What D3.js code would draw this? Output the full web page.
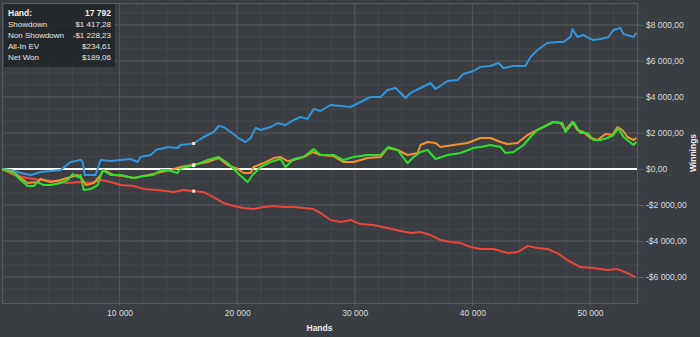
<!DOCTYPE html>
<html>
<head>
<meta charset="utf-8">
<script src="https://cdn.jsdelivr.net/npm/d3@7"></script>
<style>
  body { margin: 0; background: #3a3e42; }
  #graph { width: 700px; height: 337px; }
  text { font-family: "Liberation Sans", Arial, sans-serif; }
</style>
</head>
<body>
<div id="graph"></div>
<script>
// winnings by hand, [hand, $]
var showdownData = [
  [0,0],[740,-56],[1590,-222],[2440,-333],[3290,-167],[4140,-111],[4990,-56],[5410,167],[5840,389],
  [6690,500],[6860,389],[7030,-333],[7960,-333],[8390,500],[9240,444],[10090,500],[10940,556],
  [11530,389],[11790,667],[12640,778],[13230,1111],[13490,1111],[14090,1222],[14940,1167],[15190,1333],
  [16300,1417],[17150,1778],[18000,2056],[18420,2389],[18850,2333],[19440,2056],[20120,1722],
  [20720,1500],[21140,1722],[21570,2278],[21990,2167],[22840,2333],[23440,2556],[24120,2444],
  [24800,2722],[25390,2889],[25990,2778],[26500,3333],[27090,3222],[27940,3556],[28790,3500],
  [29640,3444],[30490,3722],[31340,4000],[32190,4000],[32780,4389],[33470,4500],[34320,3944],
  [34740,4222],[35590,4500],[36440,4778],[36870,4444],[37890,4889],[38740,4944],[39240,5278],
  [40090,5444],[40690,5667],[41540,5722],[42220,5889],[42640,5611],[43490,5722],[44510,5722],
  [44940,6222],[45530,6611],[46380,7000],[47230,7056],[47740,7056],[48340,7333],[48510,7778],
  [48930,7333],[49440,7444],[49870,7278],[50290,7167],[50890,7222],[51570,7333],[52000,7722],
  [52590,7833],[52850,7500],[53700,7333],[53950,7556]
];
var nonShowdownData = [
  [0,0],[990,-333],[2180,-500],[3290,-611],[4390,-667],[5580,-778],[6690,-722],[7540,-778],
  [8390,-611],[9240,-722],[10090,-889],[11190,-944],[12050,-1111],[13230,-1167],[14600,-1278],
  [15450,-1167],[16300,-1228],[17150,-1278],[18000,-1556],[18850,-1889],[19700,-2056],[20550,-2167],
  [21400,-2222],[22250,-2111],[23100,-2056],[23950,-2111],[24800,-2111],[25650,-2167],[26500,-2222],
  [27090,-2444],[27940,-2833],[28790,-2944],[29640,-2833],[30490,-3056],[31590,-3111],[32780,-3278],
  [33890,-3444],[34740,-3556],[35590,-3500],[36440,-3667],[37290,-3944],[38140,-4056],[38990,-4111],
  [39840,-4333],[40690,-4444],[41790,-4444],[42980,-4667],[43840,-4611],[44690,-4278],[45530,-4389],
  [46380,-4444],[47230,-4667],[48090,-5056],[49190,-5444],[50300,-5500],[51490,-5611],[52340,-5556],
  [53190,-5778],[53870,-6000]
];
var allInEvData = [
  [0,0],[990,-167],[1590,-500],[2180,-778],[3030,-722],[3290,-556],[4140,-722],[4990,-611],
  [5840,-444],[6430,-333],[6860,-611],[7120,-889],[7800,-778],[8390,-333],[8650,-56],[9500,-333],
  [10350,-389],[11190,-500],[12050,-389],[12890,-278],[13490,-167],[14340,-56],[15190,111],
  [16300,235],[17490,389],[18420,611],[19190,222],[20040,0],[20550,-222],[21140,-222],[21400,111],
  [22250,333],[23100,611],[23690,667],[24290,444],[24800,500],[25650,667],[26410,944],[27090,778],
  [28190,722],[29040,389],[29890,389],[31080,611],[32190,667],[32780,1167],[33640,1056],[34490,778],
  [35340,889],[35590,1333],[36190,1500],[36870,1444],[37290,1222],[38390,1333],[39590,1444],
  [40690,1722],[41540,1722],[42390,1500],[42980,1389],[43840,1444],[44690,1889],[45530,2167],
  [46380,2444],[46890,2611],[47490,2556],[47910,2167],[48510,2611],[48930,2167],[49440,2056],
  [50040,1722],[50640,1611],[51320,1944],[51910,1889],[52340,2333],[52760,2167],[53190,1778],
  [53700,1611],[53950,1722]
];
var netWonData = [
  [0,0],[990,-222],[1590,-611],[2180,-944],[2700,-944],[3030,-722],[3540,-889],[4140,-889],
  [4990,-778],[5580,-611],[6010,-278],[6430,-444],[6690,-333],[6950,-1167],[7540,-1111],[8140,-889],
  [8560,-56],[9240,-333],[10090,-333],[11190,-500],[12050,-389],[12890,-333],[13490,-56],[14090,-56],
  [14940,-222],[15190,56],[16300,189],[17490,500],[18420,667],[19190,333],[20040,-222],[20890,-722],
  [21310,-333],[21990,111],[22840,389],[23690,556],[24120,111],[24800,556],[25650,667],[26500,1111],
  [27090,778],[28190,778],[29040,500],[29890,667],[31080,778],[32190,778],[32870,1222],[33640,1056],
  [34490,333],[35000,667],[35590,944],[36190,1056],[36870,556],[37890,778],[38990,889],[40090,1167],
  [40690,1222],[41540,1333],[42390,1222],[42820,889],[43490,944],[44350,1333],[44940,1778],
  [45530,2167],[46380,2444],[46890,2611],[47660,2556],[47910,2056],[48600,2611],[49190,2000],
  [49780,2000],[50290,1611],[50890,1611],[51490,1722],[52000,1889],[52420,2278],[52850,1778],
  [53700,1333],[53950,1500]
];

var xTicks = [10000, 20000, 30000, 40000, 50000];
var yTicks = [-6000, -4000, -2000, 0, 2000, 4000, 6000, 8000];

var tipHand = 17792;
var markerHand = 16300;
var tipLabels = ["Showdown", "Non Showdown", "All-In EV", "Net Won"];
var tipValues = [1417.28, -1228.23, 234.61, 189.06];
var seriesColors = ["#3396dc", "#e8463f", "#f2912e", "#2fe02f"];

var width = 700;
var height = 337;
var margin = {top: 3, right: 63, bottom: 34, left: 2};
var plotW = width - margin.left - margin.right;
var plotH = height - margin.top - margin.bottom;

var locale = d3.formatLocale({
  decimal: ",", thousands: " ", grouping: [3], currency: ["$", ""], minus: "-"
});
var money = locale.format("$,.2f");
var count = locale.format(",d");

var svg = d3.select('#graph')
  .append('svg')
  .attr('width', width)
  .attr('height', height);

svg.append('rect')
  .attr('width', width).attr('height', height)
  .attr('fill', '#3a3e42');

var g = svg.append('g')
  .attr('transform', 'translate(' + margin.left + ',' + margin.top + ')');

var x = d3.scaleLinear().domain([0, 54000]).range([0, plotW]);
var y = d3.scaleLinear().domain([-7440, 9220]).range([plotH, 0]);

// minor grid: 2000 hands, a third of $2000
var xMinor = d3.range(2000, 54000, 2000);
var yMinor = d3.range(-22, 14).map(function(i) { return i * 2000 / 3; })
  .filter(function(v) { return v > -7440 && v < 9220; });

g.selectAll('.vminor').data(xMinor).enter().append('line')
  .attr('x1', function(d) { return x(d); }).attr('x2', function(d) { return x(d); })
  .attr('y1', 0).attr('y2', plotH + 3)
  .attr('stroke', '#44484d').attr('stroke-width', 1);

g.selectAll('.hminor').data(yMinor).enter().append('line')
  .attr('x1', 0).attr('x2', plotW + 4)
  .attr('y1', function(d) { return y(d); }).attr('y2', function(d) { return y(d); })
  .attr('stroke', '#44484d').attr('stroke-width', 1);

// major grid
g.selectAll('.vmajor').data(xTicks).enter().append('line')
  .attr('x1', function(d) { return x(d); }).attr('x2', function(d) { return x(d); })
  .attr('y1', 0).attr('y2', plotH + 3)
  .attr('stroke', '#52575c').attr('stroke-width', 1);

g.selectAll('.hmajor').data(yTicks).enter().append('line')
  .attr('x1', 0).attr('x2', plotW)
  .attr('y1', function(d) { return y(d); }).attr('y2', function(d) { return y(d); })
  .attr('stroke', '#52575c').attr('stroke-width', 1);

// border
g.append('rect')
  .attr('x', 0.5).attr('y', 0.5)
  .attr('width', plotW).attr('height', plotH)
  .attr('fill', 'none').attr('stroke', '#565b60');

// axes
var yAxis = g.append('g')
  .attr('transform', 'translate(' + plotW + ',0)')
  .call(d3.axisRight(y).tickValues(yTicks).tickFormat(money).tickSize(7).tickPadding(2));
var xAxis = g.append('g')
  .attr('transform', 'translate(0,' + plotH + ')')
  .call(d3.axisBottom(x).tickValues(xTicks).tickFormat(count).tickSize(0).tickPadding(7));

[yAxis, xAxis].forEach(function(a) {
  a.select('.domain').remove();
  a.selectAll('line').attr('stroke', '#5c6166');
  a.selectAll('text').attr('fill', '#dcdcdc').style('font-size', '8.5px');
});

// axis titles
svg.append('text')
  .attr('x', margin.left + plotW / 2).attr('y', 331)
  .attr('text-anchor', 'middle')
  .attr('fill', '#f0f0f0').style('font-size', '8.5px').style('font-weight', 'bold')
  .text('Hands');

svg.append('text')
  .attr('transform', 'translate(696,' + (margin.top + plotH / 2) + ') rotate(-90)')
  .attr('text-anchor', 'middle')
  .attr('fill', '#f0f0f0').style('font-size', '8.5px').style('font-weight', 'bold')
  .text('Winnings');

// zero line
g.append('line')
  .attr('x1', 0).attr('x2', plotW)
  .attr('y1', y(0)).attr('y2', y(0))
  .attr('stroke', '#ffffff').attr('stroke-width', 2);

var line = d3.line()
  .x(function(d) { return x(d[0]); })
  .y(function(d) { return y(d[1]); });

var allSeries = [showdownData, nonShowdownData, allInEvData, netWonData];

g.selectAll('.series').data(allSeries).enter().append('path')
  .attr('d', line)
  .attr('fill', 'none')
  .attr('stroke', function(d, i) { return seriesColors[i]; })
  .attr('stroke-width', 2)
  .attr('stroke-linejoin', 'round');

// hover markers
g.selectAll('.marker').data(tipValues).enter().append('rect')
  .attr('x', x(markerHand) - 1.5)
  .attr('y', function(d) { return y(d) - 1.5; })
  .attr('width', 3).attr('height', 3)
  .attr('fill', '#f3e7cf');

// tooltip
var tip = svg.append('g').attr('transform', 'translate(4,4)');

tip.append('rect')
  .attr('width', 111).attr('height', 63)
  .attr('fill', 'rgba(34,36,39,0.85)');

tip.append('text')
  .attr('x', 4).attr('y', 12)
  .attr('fill', '#f2f2f2').style('font-size', '8.5px').style('font-weight', 'bold')
  .text('Hand:');
tip.append('text')
  .attr('x', 107).attr('y', 12)
  .attr('text-anchor', 'end')
  .attr('fill', '#f2f2f2').style('font-size', '8.5px').style('font-weight', 'bold')
  .text(count(tipHand));

tipLabels.forEach(function(lbl, i) {
  tip.append('text')
    .attr('x', 4).attr('y', 23 + i * 11)
    .attr('fill', '#e6e6e6').style('font-size', '8px')
    .text(lbl);
  tip.append('text')
    .attr('x', 107).attr('y', 23 + i * 11)
    .attr('text-anchor', 'end')
    .attr('fill', '#e6e6e6').style('font-size', '8px')
    .text(money(tipValues[i]));
});
</script>
</body>
</html>
